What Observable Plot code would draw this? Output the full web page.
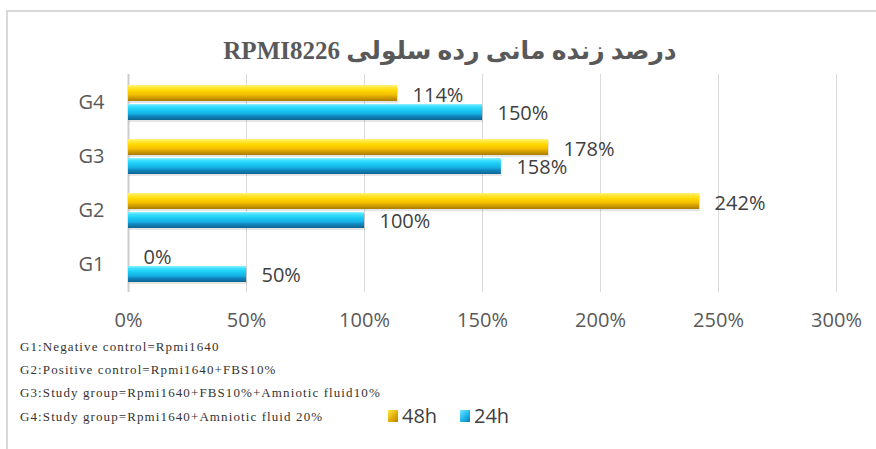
<!DOCTYPE html>
<html>
<head>
<meta charset="utf-8">
<script src="https://cdn.jsdelivr.net/npm/d3@7"></script>
<script src="https://cdn.jsdelivr.net/npm/@observablehq/plot@0.6"></script>
<style>
  html, body { margin: 0; padding: 0; background: #fff; }
  #page { position: relative; width: 876px; height: 449px; overflow: hidden; background: #fff; }
  #frame { position: absolute; left: 6px; top: 10px; width: 900px; height: 500px;
           border-top: 2px solid #d9d9d9; border-left: 2px solid #d9d9d9; }
  #title { position: absolute; left: 0; width: 900px; top: 36px; text-align: center;
           font-family: "Liberation Serif", "DejaVu Sans", serif; font-weight: bold;
           font-size: 25px; color: #595959; }
  #chart { position: absolute; left: 0; top: 0; }
  .note { position: absolute; left: 20px; font-family: "Liberation Serif", serif;
          font-size: 13px; letter-spacing: 1.1px; color: #333; white-space: nowrap; }
  .leg { position: absolute; top: 402px; font-family: "Open Sans", sans-serif;
         font-size: 20px; color: #404040; display: flex; align-items: center; }
  .sw { width: 10px; height: 12px; margin-right: 4px; }
</style>
</head>
<body>
<div id="page">
  <div id="frame"></div>
  <div id="title" dir="rtl">درصد زنده مانی رده سلولی RPMI8226</div>
  <div id="chart"></div>
  <div id="notes"></div>
  <div class="leg" style="left:388px;"><div class="sw" style="background:linear-gradient(135deg,#ffe84a,#e0a800 60%,#b88600);"></div>48h</div>
  <div class="leg" style="left:460px;"><div class="sw" style="background:linear-gradient(135deg,#6fe8ff,#1ab0e8 60%,#0f78a8);"></div>24h</div>
</div>
<script>
const groups = ["G4", "G3", "G2", "G1"];
const series = ["48h", "24h"];
const values48h = [114, 178, 242, 0];   // G4, G3, G2, G1
const values24h = [150, 158, 100, 50];  // G4, G3, G2, G1
const xTicks = [0, 50, 100, 150, 200, 250, 300];
const notes = [
  "G1:Negative control=Rpmi1640",
  "G2:Positive control=Rpmi1640+FBS10%",
  "G3:Study group=Rpmi1640+FBS10%+Amniotic fluid10%",
  "G4:Study group=Rpmi1640+Amniotic fluid 20%"
];

const d48 = groups.map((g, i) => ({group: g, series: "48h", value: values48h[i]}));
const d24 = groups.map((g, i) => ({group: g, series: "24h", value: values24h[i]}));

const plot = Plot.plot({
  width: 876,
  height: 340,
  marginLeft: 128,
  marginRight: 40,
  marginTop: 74,
  marginBottom: 48,
  style: {fontFamily: "Open Sans, sans-serif", fontSize: "20px", color: "#595959", background: "transparent"},
  x: {domain: [0, 300], ticks: xTicks, tickFormat: d => d + "%", tickSize: 0, tickPadding: 20, label: null},
  y: {domain: groups, paddingInner: 0.358, paddingOuter: 0.179, tickSize: 0, tickPadding: 24, label: null},
  marks: [
    Plot.ruleX(xTicks.slice(1), {stroke: "#d9d9d9", strokeWidth: 1}),
    Plot.ruleX([0], {stroke: "#cccccc", strokeWidth: 2}),
    // soft shadows
    Plot.barX(d48, {x: "value", y: "group", insetBottom: 19, fill: "#000", fillOpacity: 0.1, dy: 2, dx: 1}),
    Plot.barX(d24, {x: "value", y: "group", insetTop: 19, fill: "#000", fillOpacity: 0.1, dy: 2, dx: 1}),
    Plot.barX(d48, {x: "value", y: "group", insetBottom: 19, fill: "url(#gy)"}),
    Plot.barX(d24, {x: "value", y: "group", insetTop: 19, fill: "url(#gb)"}),
    Plot.text(d48, {x: "value", y: "group", text: d => d.value + "%", dx: 15, dy: -7, textAnchor: "start", fill: "#404040", fontSize: 20}),
    Plot.text(d24, {x: "value", y: "group", text: d => d.value + "%", dx: 15, dy: 11, textAnchor: "start", fill: "#404040", fontSize: 20}),
    Plot.axisX({ticks: xTicks, tickFormat: d => d + "%", tickSize: 0, tickPadding: 20, fill: "#595959"}),
    Plot.axisY({tickSize: 0, tickPadding: 24, fill: "#595959"})
  ]
});

const defs = d3.select(plot).insert("defs", ":first-child");
const gy = defs.append("linearGradient").attr("id", "gy").attr("x1", 0).attr("y1", 0).attr("x2", 0).attr("y2", 1);
[[0, "#fff27a"], [0.15, "#ffe83a"], [0.35, "#ffd800"], [0.6, "#f2c000"], [0.75, "#d9a300"], [1, "#a87c00"]]
  .forEach(([o, c]) => gy.append("stop").attr("offset", o).attr("stop-color", c));
const gb = defs.append("linearGradient").attr("id", "gb").attr("x1", 0).attr("y1", 0).attr("x2", 0).attr("y2", 1);
[[0, "#8ff0ff"], [0.15, "#3fe0ff"], [0.35, "#1ccdf5"], [0.6, "#16b2e6"], [0.75, "#1288c0"], [1, "#0d6490"]]
  .forEach(([o, c]) => gb.append("stop").attr("offset", o).attr("stop-color", c));

document.getElementById("chart").appendChild(plot);

const noteTops = [339, 362, 385, 409];
const notesDiv = document.getElementById("notes");
notes.forEach((t, i) => {
  const d = document.createElement("div");
  d.className = "note";
  d.style.top = noteTops[i] + "px";
  d.textContent = t;
  notesDiv.appendChild(d);
});
</script>
</body>
</html>
